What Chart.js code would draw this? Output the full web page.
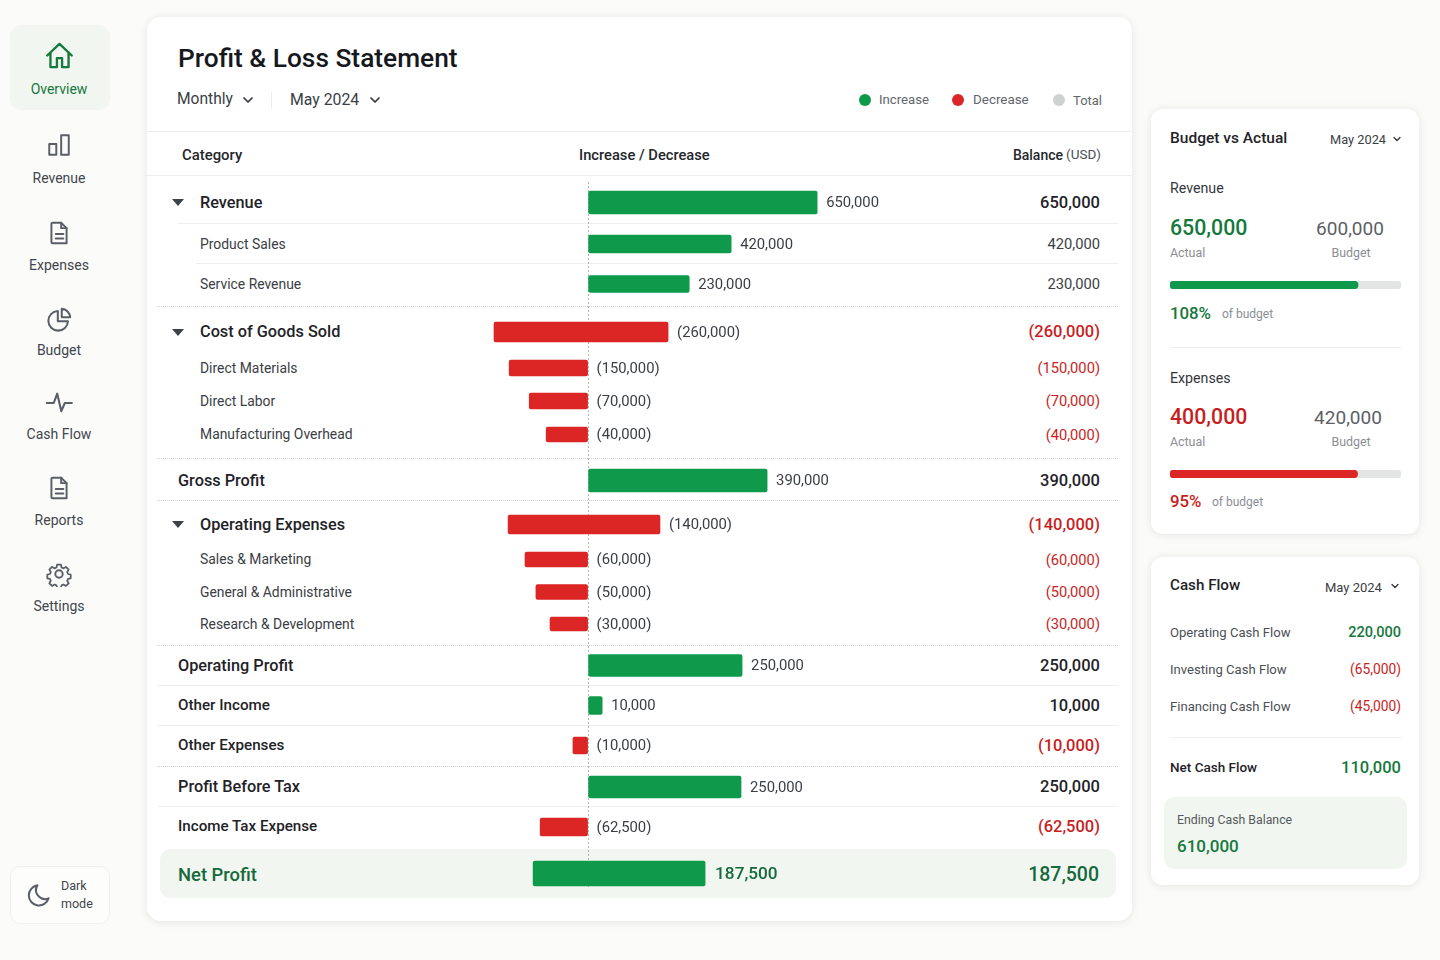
<!DOCTYPE html>
<html>
<head>
<meta charset="utf-8">
<title>Profit & Loss Statement</title>
<script src="https://cdn.jsdelivr.net/npm/chart.js@4"></script>
<style>
  html, body { margin: 0; padding: 0; }
  body { width: 1440px; height: 960px; position: relative; overflow: hidden; background: #fbfbf9; font-family: Roboto, sans-serif; color: #1f2328; }
  .box { position: absolute; box-sizing: border-box; }
  .card { background: #fff; border-radius: 12px; box-shadow: 0 1px 8px rgba(30, 40, 30, .10); }
  .t { position: absolute; white-space: nowrap; line-height: 1; }
  .line { position: absolute; height: 0; border-top: 1px solid #eeeeec; }
  .line.dot { border-top: 1px dotted #cfcfcc; }
  svg.ic { position: absolute; fill: none; stroke: #5a5e66; stroke-width: 1.8; stroke-linecap: round; stroke-linejoin: round; }
  canvas { position: absolute; }
</style>
</head>
<body>
<div class="box" style="left:10px;top:25px;width:100px;height:85px;background:#f2f6f0;border-radius:12px"></div>
<div class="box" style="left:10px;top:866px;width:100px;height:58px;border:1px solid #f1f1ef;border-radius:10px;background:#fdfdfc"></div>
<div class="box card" style="left:147px;top:17px;width:985px;height:904px;border-radius:14px"></div>
<div class="box card" style="left:1151px;top:109px;width:268px;height:425px"></div>
<div class="box card" style="left:1151px;top:557px;width:268px;height:328px"></div>
<div class="box" style="left:160px;top:849px;width:956px;height:49px;background:#f1f6f0;border-radius:10px"></div>
<div class="box" style="left:1164px;top:797px;width:243px;height:72px;background:#f1f6f0;border-radius:10px"></div>
<div id="texts"></div>
<canvas id="pl-chart" width="400" height="705" style="left:488px;top:182px;width:400px;height:705px"></canvas>
<canvas id="budget-revenue" width="231" height="8" style="left:1170px;top:281px;width:231px;height:8px"></canvas>
<canvas id="budget-expenses" width="231" height="8" style="left:1170px;top:470px;width:231px;height:8px"></canvas>

<script>
const GREEN = '#0f9a4b';
const RED = '#dc2626';
const TEXT_GREEN = '#15783c';
const TEXT_RED = '#c81e1e';

// statement rows
const categories = ['Revenue', 'Product Sales', 'Service Revenue', 'Cost of Goods Sold', 'Direct Materials', 'Direct Labor',
    'Manufacturing Overhead', 'Gross Profit', 'Operating Expenses', 'Sales & Marketing', 'General & Administrative',
    'Research & Development', 'Operating Profit', 'Other Income', 'Other Expenses', 'Profit Before Tax', 'Income Tax Expense', 'Net Profit'];
const rowKinds = ['group', 'child', 'child', 'group', 'child', 'child', 'child', 'total', 'group', 'child', 'child', 'child',
    'total', 'line', 'line', 'total', 'line', 'net'];
const amounts = ['650,000', '420,000', '230,000', '(260,000)', '(150,000)', '(70,000)', '(40,000)', '390,000', '(140,000)',
    '(60,000)', '(50,000)', '(30,000)', '250,000', '10,000', '(10,000)', '250,000', '(62,500)', '187,500'];

// extents of the bars as drawn in the picture, in USD on one shared axis
const barLow = [0, 0, 0, -267000, -224000, -167000, -119000, 0, -227000, -179000, -148000, -108000, 0, 0, -43000, 0, -136000, -156000];
const barHigh = [650000, 406000, 287000, 227000, 0, 0, 0, 508000, 204000, 0, 0, 0, 437000, 40000, 0, 434000, 0, 332000];

// side cards
const budgetProgress = [81.4, 81.2];
const cashLabels = ['Operating Cash Flow', 'Investing Cash Flow', 'Financing Cash Flow'];
const cashValues = ['220,000', '(65,000)', '(45,000)'];
const navLabels = ['Overview', 'Revenue', 'Expenses', 'Budget', 'Cash Flow', 'Reports', 'Settings'];

// layout of the table, not data
const rowMid = [202.5, 244, 284, 332, 368, 401, 434.5, 480.5, 524.5, 559.5, 592, 624, 665.5, 705.5, 745.5, 787, 827, 873.5];
const barSize = [23, 18, 17, 20, 16, 16, 15, 23, 19, 15, 15, 14, 22, 18, 17, 22, 18, 25];
const chartTop = 182;

const textBox = document.getElementById('texts');

function put(text, x, y, size, weight, color, align) {
    const el = document.createElement('span');
    el.className = 't';
    el.textContent = text;
    const dx = align === 'right' ? '-100%' : align === 'center' ? '-50%' : '0';
    el.style.cssText = `left:${x}px;top:${y}px;font-size:${size}px;font-weight:${weight};color:${color};transform:translate(${dx},-50%)`;
    textBox.appendChild(el);
    return el;
}

function rule(y, x1, x2, dotted) {
    const el = document.createElement('div');
    el.className = dotted ? 'line dot' : 'line';
    el.style.left = x1 + 'px';
    el.style.top = y + 'px';
    el.style.width = (x2 - x1) + 'px';
    textBox.appendChild(el);
}

function icon(cx, cy, size, body, color) {
    const box = size + 'px';
    textBox.insertAdjacentHTML('beforeend',
        `<svg class="ic" viewBox="0 0 24 24" style="left:${cx - size / 2}px;top:${cy - size / 2}px;width:${box};height:${box};${color ? 'stroke:' + color : ''}">${body}</svg>`);
}

function chevron(cx, cy, size) {
    icon(cx, cy, size, '<path d="M6 9l6 6 6-6" stroke-width="2.6"/>', '#33373d');
}

// ---- sidebar
const navY = [89, 177.5, 265, 350, 433.5, 519.5, 605.5];
navLabels.forEach((label, i) => put(label, 59, navY[i], 14, 400, i === 0 ? TEXT_GREEN : '#42464d', 'center'));
const docIcon = '<path d="M6 2.5h8l5 5v14H6a1 1 0 0 1-1-1v-17a1 1 0 0 1 1-1z"/><path d="M14 2.5v5h5M9 13h7M9 17h7"/>';
icon(59, 55, 31, '<path d="M2.5 12L12 3l9.5 9M5 10v11h5v-7h4v7h5V10"/>', TEXT_GREEN);
icon(59, 145, 26, '<rect x="3" y="11" width="6.5" height="10"/><rect x="14" y="3" width="7" height="18"/>');
icon(59, 233, 26, docIcon);
icon(59, 319, 27, '<path d="M10.5 4.5a8.7 8.7 0 1 0 9 9h-9z"/><path d="M14 2.5a8 8 0 0 1 7.5 7.5H14z"/>');
icon(59, 403, 28, '<path d="M1.5 12h6l3-8 3.5 15 3-7h6"/>');
icon(59, 488, 26, docIcon);
icon(59, 574, 26, '<circle cx="12" cy="12" r="3.4"/><path d="M10 2.5h4l.6 2.8 2 .9 2.5-1.5 2.8 2.8-1.5 2.5.9 2 2.7.6v3.8l-2.7.6-.9 2 1.5 2.5-2.8 2.8-2.5-1.5-2 .9-.6 2.8h-4l-.6-2.8-2-.9-2.5 1.5-2.8-2.8 1.5-2.5-.9-2-2.7-.6v-3.8l2.7-.6.9-2-1.5-2.5 2.8-2.8 2.5 1.5 2-.9z" transform="translate(1.2 1.2) scale(.9)"/>');
icon(38, 895, 27, '<path d="M11 3a9 9 0 1 0 10 11.5A8 8 0 0 1 11 3z"/>');
put('Dark', 61, 885.5, 12.5, 400, '#42464d');
put('mode', 61, 903.5, 12.5, 400, '#42464d');

// ---- main card header
put('Profit & Loss Statement', 178, 57.5, 26.3, 500, '#15181c');
put('Monthly', 177, 100, 15.6, 400, '#3a3e45');
chevron(248, 100, 16);
rule(131, 147, 1132);
rule(175, 147, 1132);
put('May 2024', 290, 100, 15.8, 400, '#3a3e45');
chevron(375, 100, 16);
textBox.insertAdjacentHTML('beforeend',
    '<div class="box" style="left:271px;top:92px;width:1px;height:17px;background:#ecece9"></div>' +
    '<div class="box" style="left:859px;top:94px;width:12px;height:12px;border-radius:50%;background:' + GREEN + '"></div>' +
    '<div class="box" style="left:952px;top:94px;width:12px;height:12px;border-radius:50%;background:' + RED + '"></div>' +
    '<div class="box" style="left:1053px;top:94px;width:12px;height:12px;border-radius:50%;background:#cfd0d0"></div>');
put('Increase', 879, 100, 13.2, 400, '#62666d');
put('Decrease', 973, 100, 13.4, 400, '#62666d');
put('Total', 1073, 100, 13, 400, '#62666d');
put('Category', 182, 154.5, 14.9, 500, '#24272c');
put('Increase / Decrease', 579, 154.5, 14.7, 500, '#24272c');
put('(USD)', 1101, 154.5, 13.5, 400, '#4b4f56', 'right');
put('Balance', 1063, 154.5, 14, 500, '#24272c', 'right');

// ---- table rows
rule(223, 178, 1118);
rule(263, 196, 1118);
rule(306, 157, 1118, true);
rule(458, 157, 1118, true);
rule(500, 157, 1118, true);
rule(645, 157, 1118, true);
rule(685, 157, 1118);
rule(725, 157, 1118);
rule(766, 157, 1118, true);
rule(806, 157, 1118);

categories.forEach((name, i) => {
    const kind = rowKinds[i];
    const y = rowMid[i];
    const negative = amounts[i].startsWith('(');
    if (kind === 'group') {
        textBox.insertAdjacentHTML('beforeend', `<svg viewBox="0 0 12 7" style="position:absolute;left:172px;top:${y - 3.5}px;width:12px;height:7px"><path d="M0 0h12L6 7z" fill="#3d4148"/></svg>`);
    }
    if (kind === 'net') {
        put(name, 178, y + 1, 18.4, 500, '#15693a');
        put(amounts[i], 1099, y + 1, 19.5, 500, '#15693a', 'right');
    } else if (kind === 'child') {
        put(name, 200, y + 0.5, 13.9, 400, '#3a3e45');
        put(amounts[i], 1100, y, 14.7, 400, negative ? TEXT_RED : '#3a3e45', 'right');
    } else {
        const size = kind === 'line' ? 15.2 : 16.3;
        put(name, kind === 'group' ? 200 : 178, y, size, 500, '#1f2328');
        put(amounts[i], 1100, y, 16.5, 500, negative ? TEXT_RED : '#1f2328', 'right');
    }
});

// ---- budget card
put('Budget vs Actual', 1170, 138.5, 15.5, 500, '#1f2328');
put('May 2024', 1330, 140, 12.8, 400, '#3a3e45');
chevron(1397, 139, 12);
put('Revenue', 1170, 188, 14.2, 400, '#33373d');
put('650,000', 1170, 228, 21.3, 500, TEXT_GREEN);
put('600,000', 1350, 228, 19, 400, '#5b5f66', 'center');
put('Actual', 1170, 253, 12.4, 400, '#8a8e94');
put('Budget', 1351, 253, 12.4, 400, '#8a8e94', 'center');
put('108%', 1170, 313, 16.8, 500, TEXT_GREEN);
put('of budget', 1222, 313.5, 12, 400, '#8a8e94');
rule(347, 1170, 1401);
put('Expenses', 1170, 378, 14.2, 400, '#33373d');
put('400,000', 1170, 417, 21.3, 500, TEXT_RED);
put('420,000', 1348, 417, 19, 400, '#5b5f66', 'center');
put('Actual', 1170, 442, 12.4, 400, '#8a8e94');
put('Budget', 1351, 442, 12.4, 400, '#8a8e94', 'center');
put('95%', 1170, 501, 16.8, 500, TEXT_RED);
put('of budget', 1212, 501.5, 12, 400, '#8a8e94');

// ---- cash flow card
put('Cash Flow', 1170, 586, 15.2, 500, '#1f2328');
put('May 2024', 1325, 587, 13, 400, '#3a3e45');
chevron(1395, 586, 12);
cashLabels.forEach((label, i) => {
    const y = 633 + i * 37;
    const negative = cashValues[i].startsWith('(');
    put(label, 1170, y, 13.1, 400, '#4b4f56');
    put(cashValues[i], 1401, y, negative ? 13.8 : 14.5, negative ? 400 : 500, negative ? TEXT_RED : TEXT_GREEN, 'right');
});
rule(737, 1170, 1401);
put('Net Cash Flow', 1170, 768, 13.5, 500, '#1f2328');
put('110,000', 1401, 768, 16.5, 500, TEXT_GREEN, 'right');
put('Ending Cash Balance', 1177, 820, 12.3, 400, '#55595f');
put('610,000', 1177, 846, 17, 500, TEXT_GREEN);

// ---- charts
// category scale that honours the uneven table row heights
class RowScale extends Chart.CategoryScale {
    getPixelForValue(value) {
        const i = typeof value === 'number' ? value : this.parse(value);
        return this.top + rowMid[i] - chartTop;
    }
}
RowScale.id = 'rows';
Chart.register(RowScale);

const amountLabels = {
    id: 'amountLabels',
    afterDatasetsDraw(chart) {
        const ctx = chart.ctx;
        ctx.save();
        ctx.textBaseline = 'middle';
        chart.data.datasets.forEach((ds, d) => {
            chart.getDatasetMeta(d).data.forEach((bar, i) => {
                if (ds.data[i] === null) return;
                const net = rowKinds[i] === 'net';
                ctx.font = (net ? '500 17.2px' : '400 14.8px') + ' Roboto, sans-serif';
                ctx.fillStyle = net ? '#15693a' : '#3a3e45';
                ctx.fillText(amounts[i], Math.max(bar.x, bar.base) + (net ? 10 : 9), bar.y + 1);
            });
        });
        ctx.restore();
    }
};

// one dataset per bar thickness, because Chart.js sets thickness per dataset
const datasets = [...new Set(barSize)].map(size => ({
    label: `bars ${size}`,
    barThickness: size,
    borderRadius: 2,
    borderSkipped: false,
    backgroundColor: amounts.map(a => a.startsWith('(') ? RED : GREEN),
    data: categories.map((c, i) => barSize[i] === size ? [barLow[i], barHigh[i]] : null),
}));

new Chart(document.getElementById('pl-chart'), {
    type: 'bar',
    data: { labels: categories, datasets },
    options: {
        indexAxis: 'y',
        responsive: false,
        animation: false,
        devicePixelRatio: 1,
        layout: { padding: 0 },
        datasets: { bar: { grouped: false } },
        plugins: { legend: { display: false }, tooltip: { enabled: false } },
        scales: {
            x: {
                min: -284000,
                max: 851000,
                afterBuildTicks: scale => { scale.ticks = [{ value: 0 }]; },
                ticks: { display: false },
                border: { display: false, dash: [2, 2] },
                grid: { color: '#b5b5b2', lineWidth: 1, drawTicks: false },
            },
            y: { type: 'rows', display: false },
        },
    },
    plugins: [amountLabels],
});

function progressChart(id, value, color) {
    new Chart(document.getElementById(id), {
        type: 'bar',
        data: {
            labels: ['progress'],
            datasets: [
                { data: [value], backgroundColor: color, barThickness: 7.5, borderRadius: 4, borderSkipped: false, order: 0 },
                { data: [100], backgroundColor: '#e3e4e4', barThickness: 7.5, borderRadius: 4, borderSkipped: false, order: 1 },
            ],
        },
        options: {
            indexAxis: 'y',
            responsive: false,
            animation: false,
            devicePixelRatio: 1,
            datasets: { bar: { grouped: false } },
            plugins: { legend: { display: false }, tooltip: { enabled: false } },
            scales: {
                x: { min: 0, max: 100, display: false },
                y: { display: false },
            },
        },
    });
}
progressChart('budget-revenue', budgetProgress[0], GREEN);
progressChart('budget-expenses', budgetProgress[1], RED);
</script>
</body>
</html>
